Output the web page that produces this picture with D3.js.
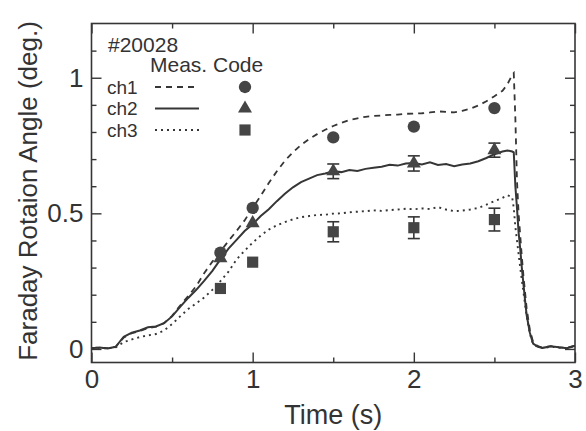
<!DOCTYPE html>
<html>
<head>
<meta charset="utf-8">
<script src="https://cdn.jsdelivr.net/npm/d3@7"></script>
<style>
  body { margin: 0; background: #fff; }
  text { font-family: "Liberation Sans", Arial, Helvetica, sans-serif; fill: #333; }
</style>
</head>
<body>
<div id="chart"></div>
<script>
// time base of the traces (s)
var time = [0, 0.05, 0.10, 0.15, 0.20, 0.25, 0.30, 0.35, 0.40, 0.45, 0.50, 0.55, 0.60, 0.65, 0.70, 0.75,
  0.80, 0.85, 0.90, 0.95, 1.00, 1.05, 1.10, 1.15, 1.20, 1.25, 1.30, 1.35, 1.40, 1.45, 1.50, 1.55,
  1.60, 1.65, 1.70, 1.75, 1.80, 1.85, 1.90, 1.95, 2.00, 2.05, 2.10, 2.15, 2.20, 2.25, 2.30, 2.35,
  2.40, 2.45, 2.50, 2.55, 2.58, 2.61, 2.62, 2.63, 2.64, 2.65, 2.66, 2.67, 2.68, 2.69, 2.70, 2.72,
  2.74, 2.77, 2.80, 2.85, 2.90, 2.95, 3.00];

// ch1 (dashed)
var ch1 = [0.003, 0.005, 0.003, 0.008, 0.042, 0.058, 0.066, 0.077, 0.082, 0.095, 0.122, 0.160, 0.195, 0.232, 0.280, 0.322,
  0.360, 0.398, 0.435, 0.474, 0.520, 0.565, 0.612, 0.655, 0.694, 0.725, 0.752, 0.774, 0.792, 0.808, 0.822, 0.834,
  0.844, 0.850, 0.856, 0.859, 0.861, 0.863, 0.864, 0.867, 0.868, 0.869, 0.872, 0.876, 0.874, 0.872, 0.878, 0.886,
  0.898, 0.913, 0.932, 0.952, 0.975, 1.010, 1.017, 0.850, 0.620, 0.500, 0.420, 0.340, 0.270, 0.210, 0.150, 0.070,
  0.025, 0.010, 0.005, 0.010, 0.006, 0.004, 0.012];

// ch2 (solid)
var ch2 = [0.003, 0.005, 0.002, 0.008, 0.045, 0.060, 0.068, 0.080, 0.083, 0.095, 0.120, 0.155, 0.188, 0.218, 0.252, 0.288,
  0.330, 0.370, 0.402, 0.435, 0.460, 0.490, 0.515, 0.545, 0.572, 0.596, 0.615, 0.628, 0.641, 0.647, 0.655, 0.652,
  0.660, 0.656, 0.664, 0.668, 0.672, 0.679, 0.676, 0.684, 0.686, 0.680, 0.688, 0.678, 0.682, 0.674, 0.680, 0.684,
  0.692, 0.704, 0.718, 0.728, 0.732, 0.728, 0.725, 0.600, 0.520, 0.430, 0.370, 0.300, 0.240, 0.180, 0.125, 0.060,
  0.020, 0.008, 0.004, 0.010, 0.006, 0.003, 0.012];

// ch3 (dotted)
var ch3 = [0.002, 0.004, 0.002, 0.006, 0.025, 0.035, 0.044, 0.050, 0.055, 0.068, 0.092, 0.120, 0.147, 0.168, 0.190, 0.218,
  0.250, 0.285, 0.330, 0.362, 0.392, 0.418, 0.440, 0.456, 0.468, 0.478, 0.486, 0.490, 0.494, 0.495, 0.499, 0.500,
  0.504, 0.506, 0.508, 0.511, 0.509, 0.512, 0.514, 0.517, 0.515, 0.518, 0.516, 0.523, 0.514, 0.508, 0.510, 0.514,
  0.520, 0.532, 0.545, 0.557, 0.567, 0.560, 0.520, 0.450, 0.400, 0.350, 0.300, 0.255, 0.210, 0.165, 0.120, 0.055,
  0.018, 0.007, 0.003, 0.008, 0.005, 0.003, 0.010];

// Meas. Code points
var codeTime = [0.8, 1.0, 1.5, 2.0, 2.5];
var code1 = [0.355, 0.520, 0.780, 0.820, 0.888];
var code2 = [0.335, 0.464, 0.655, 0.684, 0.733];
var code2err = [0, 0, 0.027, 0.028, 0.026];
var code3 = [0.223, 0.320, 0.432, 0.447, 0.477];
var code3err = [0, 0, 0.037, 0.040, 0.042];

var xMajor = [0, 1, 2, 3];
var xMinor = [0.5, 1.5, 2.5];
var yMajor = [0, 0.5, 1];
var yMinor = [0.1, 0.2, 0.3, 0.4, 0.6, 0.7, 0.8, 0.9, 1.1];

var width = 586, height = 431;
var margin = {top: 23.5, right: 11, bottom: 68.5, left: 91.5};
var ink = "#363636";

var svg = d3.select("#chart").append("svg")
    .attr("width", width)
    .attr("height", height);

var x = d3.scaleLinear().domain([0, 3]).range([margin.left, width - margin.right]);
var y = d3.scaleLinear().domain([-0.05, 1.2]).range([height - margin.bottom, margin.top]);

var fmt = d3.format("~g");

function styleAxis(g) {
  g.select(".domain").remove();
  g.selectAll("line").attr("stroke", ink).attr("stroke-width", 1.4);
  g.selectAll("text").style("font-size", "26px").attr("fill", "#333");
}

// bottom / top
svg.append("g").attr("transform", "translate(0," + y.range()[0] + ")")
  .call(d3.axisBottom(x).tickValues(xMajor).tickFormat(fmt).tickSizeInner(-10).tickSizeOuter(0).tickPadding(7))
  .call(styleAxis);
svg.append("g").attr("transform", "translate(0," + y.range()[0] + ")")
  .call(d3.axisBottom(x).tickValues(xMinor).tickFormat("").tickSizeInner(-5).tickSizeOuter(0))
  .call(styleAxis);
svg.append("g").attr("transform", "translate(0," + y.range()[1] + ")")
  .call(d3.axisTop(x).tickValues(xMajor).tickFormat("").tickSizeInner(-10).tickSizeOuter(0))
  .call(styleAxis);
svg.append("g").attr("transform", "translate(0," + y.range()[1] + ")")
  .call(d3.axisTop(x).tickValues(xMinor).tickFormat("").tickSizeInner(-5).tickSizeOuter(0))
  .call(styleAxis);

// left / right
svg.append("g").attr("transform", "translate(" + x.range()[0] + ",0)")
  .call(d3.axisLeft(y).tickValues(yMajor).tickFormat(fmt).tickSizeInner(-10).tickSizeOuter(0).tickPadding(8))
  .call(styleAxis);
svg.append("g").attr("transform", "translate(" + x.range()[0] + ",0)")
  .call(d3.axisLeft(y).tickValues(yMinor).tickFormat("").tickSizeInner(-5).tickSizeOuter(0))
  .call(styleAxis);
svg.append("g").attr("transform", "translate(" + x.range()[1] + ",0)")
  .call(d3.axisRight(y).tickValues(yMajor).tickFormat("").tickSizeInner(-10).tickSizeOuter(0))
  .call(styleAxis);
svg.append("g").attr("transform", "translate(" + x.range()[1] + ",0)")
  .call(d3.axisRight(y).tickValues(yMinor).tickFormat("").tickSizeInner(-5).tickSizeOuter(0))
  .call(styleAxis);

// frame
svg.append("rect")
  .attr("x", x.range()[0]).attr("y", y.range()[1])
  .attr("width", x.range()[1] - x.range()[0])
  .attr("height", y.range()[0] - y.range()[1])
  .attr("fill", "none").attr("stroke", ink).attr("stroke-width", 1.6);

// axis titles
svg.append("text")
  .attr("x", (x.range()[0] + x.range()[1]) / 2)
  .attr("y", 424)
  .attr("text-anchor", "middle")
  .style("font-size", "27px")
  .text("Time (s)");
svg.append("text")
  .attr("transform", "translate(37," + 191 + ") rotate(-90)")
  .attr("text-anchor", "middle")
  .style("font-size", "26px")
  .text("Faraday Rotaion Angle (deg.)");

// traces
var series = [
  {values: ch1, dash: "6,5", w: 1.8},
  {values: ch2, dash: null, w: 2},
  {values: ch3, dash: "2,4", w: 1.9}
];
var line = d3.line()
  .x(function(d) { return x(d[0]); })
  .y(function(d) { return y(d[1]); });

series.forEach(function(s) {
  svg.append("path")
    .attr("d", line(d3.zip(time, s.values)))
    .attr("fill", "none")
    .attr("stroke", ink)
    .attr("stroke-width", s.w)
    .attr("stroke-dasharray", s.dash);
});

// error bars
function errorBars(vals, errs) {
  var g = svg.append("g").attr("stroke", ink).attr("stroke-width", 1.6);
  codeTime.forEach(function(t, i) {
    if (!errs[i]) return;
    var cx = x(t), y0 = y(vals[i] - errs[i]), y1 = y(vals[i] + errs[i]);
    g.append("line").attr("x1", cx).attr("x2", cx).attr("y1", y0).attr("y2", y1);
    g.append("line").attr("x1", cx - 6).attr("x2", cx + 6).attr("y1", y0).attr("y2", y0);
    g.append("line").attr("x1", cx - 6).attr("x2", cx + 6).attr("y1", y1).attr("y2", y1);
  });
}
errorBars(code2, code2err);
errorBars(code3, code3err);

var markFill = "#454545";
var symCircle = d3.symbol().type(d3.symbolCircle).size(120);
var symTri = d3.symbol().type(d3.symbolTriangle).size(85);
var symSq = d3.symbol().type(d3.symbolSquare).size(125);

function marks(vals, sym) {
  svg.append("g").selectAll("path").data(vals).join("path")
    .attr("transform", function(d, i) { return "translate(" + x(codeTime[i]) + "," + y(d) + ")"; })
    .attr("d", sym)
    .attr("fill", markFill);
}
marks(code1, symCircle);
marks(code2, symTri);
marks(code3, symSq);

// legend
var leg = svg.append("g").style("font-size", "21px");
leg.append("text").attr("x", 108).attr("y", 52).text("#20028");
leg.append("text").attr("x", 150).attr("y", 72).text("Meas. Code");
var legRows = [
  {name: "ch1", dash: "6,5", w: 1.8, sym: symCircle},
  {name: "ch2", dash: null, w: 2, sym: symTri},
  {name: "ch3", dash: "2,4", w: 1.9, sym: symSq}
];
legRows.forEach(function(r, i) {
  var cy = 87 + i * 21.5;
  leg.append("text").attr("x", 107).attr("y", cy + 6.5).style("font-size", "19px").text(r.name);
  leg.append("line").attr("x1", 155).attr("x2", 199).attr("y1", cy).attr("y2", cy)
    .attr("stroke", ink).attr("stroke-width", r.w).attr("stroke-dasharray", r.dash);
  leg.append("path").attr("transform", "translate(245," + cy + ")").attr("d", r.sym).attr("fill", markFill);
});
</script>
</body>
</html>
